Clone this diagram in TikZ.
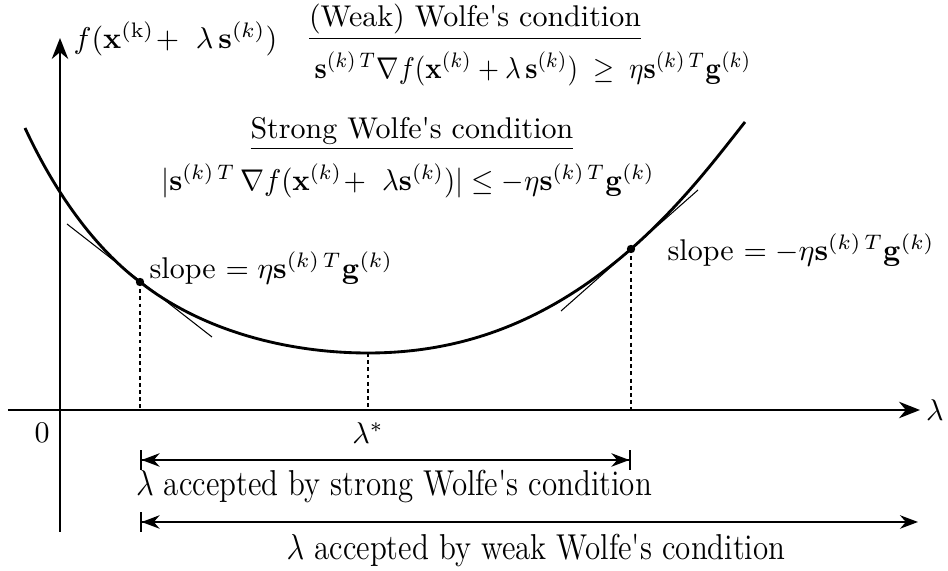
\documentclass[tikz,border=0pt]{standalone}
\usepackage{amsmath}
\usepackage{tikz}
\usetikzlibrary{arrows.meta,calc,positioning}
\tikzset{
  axis/.style={-{Stealth[length=7pt, width=5.5pt]}, line width=0.55pt, draw=black},
  curve/.style={line width=0.95pt, draw=black},
  tangent/.style={line width=0.35pt, draw=black},
  guide/.style={line width=0.35pt, dash pattern=on 1.3pt off 1.1pt},
  span/.style={line width=0.55pt},
  dot/.style={circle, fill=black, inner sep=0pt, minimum size=2.8pt},
  note/.style={font=\normalsize, inner sep=1pt},
  rangelabel/.style={font=\large, inner sep=1pt, xscale=0.86}
}
\newcommand{\sk}{\mathbf{s}^{(k)\,T}}

\begin{document}
\begin{tikzpicture}[x=0.3333pt, y=-0.3333pt]
  \useasboundingbox (0,0) rectangle (948,571);
  % axes
  \coordinate (o) at (60,410);
  \coordinate (xl) at (8,410);
  \coordinate (xr) at (920,410);
  \coordinate (yb) at (60,532);
  \coordinate (yt) at (60,38);
  \draw[axis] (xl) -- (xr);
  \draw[axis] (yb) -- (yt);
  \node[note] (lam) at (935,410) {$\lambda$};
  \node[note] (zero) at (42,433) {$0$};
  \node[note, anchor=west] (flab) at (70,39) {$f(\mathbf{x}^{(\mathrm{k})}\!+\ \lambda\,\mathbf{s}^{(k)})$};
  % points on the curve
  \coordinate (pl) at (140,282);
  \coordinate (pm) at (368,353);
  \coordinate (pr) at (631,249);
  \draw[curve] (25,128) .. controls (52,186) and (90,244) .. (pl)
    .. controls (205,333) and (292,353) .. (pm)
    .. controls (456,353) and (543,326) .. (pr)
    .. controls (681,205) and (715,160) .. (745,122);
  % tangents
  \draw[tangent] ($(pl)+(-73,-58)$) -- ($(pl)+(72,55)$);
  \draw[tangent] ($(pr)+(-70,62)$) -- ($(pr)+(67,-59)$);
  \node[dot] at (pl) {};
  \node[dot] at (pr) {};
  \draw[guide] (pl) -- (pl |- o);
  \draw[guide] (pm) -- (pm |- o);
  \draw[guide] (pr) -- (pr |- o);
  \node[note] (lstar) at (368,433) {$\lambda^{*}$};
  \node[note, anchor=west] (sl) at (146,268) {slope $=\eta\sk\mathbf{g}^{(k)}$};
  \node[note, anchor=west] (sr) at (664,250) {slope $=-\eta\sk\mathbf{g}^{(k)}$};
  % conditions
  \node[note] (weak) at (475,22) {\underline{(Weak) Wolfe\textquotesingle s condition}};
  \node[note, xscale=0.9] (weakeq) at (533,69) {$\sk\nabla f(\mathbf{x}^{(k)}+\lambda\,\mathbf{s}^{(k)})\;\geq\;\eta\sk\mathbf{g}^{(k)}$};
  \node[note] (strong) at (412,134) {\underline{Strong Wolfe\textquotesingle s condition}};
  \node[note, xscale=0.96] (strongeq) at (408,181) {$|\sk\,\nabla f(\mathbf{x}^{(k)}\!+\ \lambda\mathbf{s}^{(k)})|\leq-\eta\sk\mathbf{g}^{(k)}$};
  % accepted ranges
  \coordinate (sa) at (140,460);
  \coordinate (sb) at (631,460);
  \coordinate (wa) at (140,522);
  \coordinate (wb) at (918,522);
  \draw[span, {Bar[width=6.5pt]Stealth[length=6pt, width=4.5pt]}-{Stealth[length=6pt, width=4.5pt]Bar[width=6.5pt]}] (sa) -- (sb);
  \draw[span, {Bar[width=6.5pt]Stealth[length=6pt, width=4.5pt]}-{Stealth[length=6pt, width=4.5pt]}] (wa) -- (wb);
  \node[rangelabel] (slab) at (394,487) {$\lambda$ accepted by strong Wolfe\textquotesingle s condition};
  \node[rangelabel] (wlab) at (536,551) {$\lambda$ accepted by weak Wolfe\textquotesingle s condition};
\end{tikzpicture}
\end{document}
